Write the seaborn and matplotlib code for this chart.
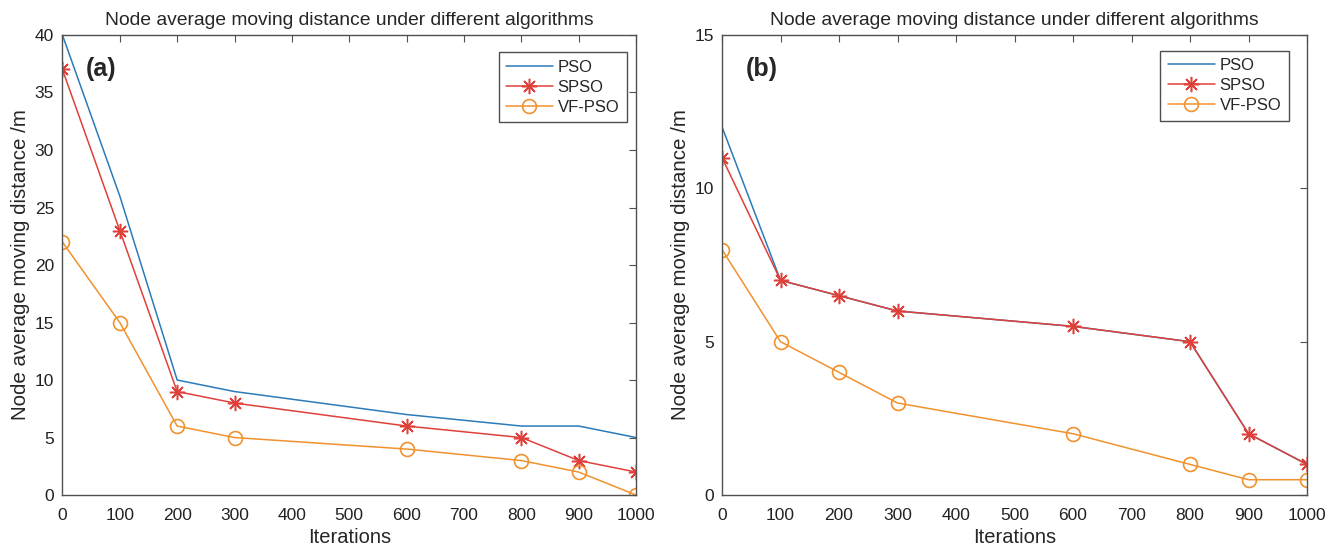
import numpy as np
import pandas as pd
import matplotlib as mpl
mpl.use('Agg')
import seaborn as sns
import matplotlib.pyplot as plt

# iterations at which the distance was recorded
iters = [0, 100, 200, 300, 600, 800, 900, 1000]

# panel (a)
pso_a = [40, 26, 10, 9, 7, 6, 6, 5]
spso_a = [37, 23, 9, 8, 6, 5, 3, 2]
vfpso_a = [22, 15, 6, 5, 4, 3, 2, 0]

# panel (b)
pso_b = [12, 7, 6.5, 6, 5.5, 5, 2, 1]
spso_b = [11, 7, 6.5, 6, 5.5, 5, 2, 1]
vfpso_b = [8, 5, 4, 3, 2, 1, 0.5, 0.5]

algos = ['PSO', 'SPSO', 'VF-PSO']
colors = {'PSO': '#2b7bba', 'SPSO': '#e0403a', 'VF-PSO': '#f0922e'}
markers = {'PSO': None, 'SPSO': (8, 2, 0), 'VF-PSO': 'o'}

sns.set_style('white')
plt.rcParams['font.family'] = ['Liberation Sans', 'DejaVu Sans']
axis_col = '#505050'


def draw_panel(ax, series, ymax, yticks, tag, leg_anchor):
    for name, vals in zip(algos, series):
        df = pd.DataFrame({'Iterations': iters, 'dist': vals})
        mk = markers[name]
        kw = dict(color=colors[name], linewidth=1.1, label=name)
        if mk is None:
            sns.lineplot(data=df, x='Iterations', y='dist', ax=ax, **kw)
        elif mk == 'o':
            sns.lineplot(data=df, x='Iterations', y='dist', ax=ax,
                         marker='o', markersize=10, markerfacecolor='none',
                         markeredgecolor=colors[name], markeredgewidth=1.2,
                         **kw)
        else:
            sns.lineplot(data=df, x='Iterations', y='dist', ax=ax,
                         marker=mk, markersize=11,
                         markeredgecolor=colors[name], markeredgewidth=1.1,
                         **kw)

    ax.set_xlim(0, 1000)
    ax.set_ylim(0, ymax)
    ax.set_xticks(np.arange(0, 1001, 100))
    ax.set_yticks(yticks)
    ax.tick_params(direction='in', length=5, top=True, right=True,
                   labelsize=12.5, color=axis_col, labelcolor='#222222')
    ax.tick_params(axis='x', pad=9)
    ax.tick_params(axis='y', pad=6)
    for sp in ax.spines.values():
        sp.set_color(axis_col)
        sp.set_linewidth(1.0)
    ax.set_xlabel('Iterations', fontsize=14.5, labelpad=4)
    ax.set_ylabel('Node average moving distance /m', fontsize=14.8,
                  labelpad=3)
    ax.set_title('Node average moving distance under different algorithms',
                 fontsize=13.9, pad=7)
    ax.text(0.04, 0.925, tag, transform=ax.transAxes, fontsize=18,
            fontweight='bold', va='center')
    leg = ax.legend(loc='upper right', bbox_to_anchor=leg_anchor,
                    fontsize=12, frameon=True, fancybox=False,
                    edgecolor='#222222', handlelength=2.8,
                    borderaxespad=0.0, labelspacing=0.3,
                    borderpad=0.45, handletextpad=0.3)
    leg.get_frame().set_linewidth(1.0)


fig = plt.figure(figsize=(13.28, 5.55), dpi=100)
ax1 = fig.add_axes([0.047, 0.108, 0.432, 0.829])
ax2 = fig.add_axes([0.5437, 0.108, 0.4405, 0.829])

draw_panel(ax1, [pso_a, spso_a, vfpso_a], 40, np.arange(0, 41, 5), '(a)',
           (0.984, 0.962))
draw_panel(ax2, [pso_b, spso_b, vfpso_b], 15, [0, 5, 10, 15], '(b)',
           (0.969, 0.966))

fig.savefig('out.png', dpi=100)
